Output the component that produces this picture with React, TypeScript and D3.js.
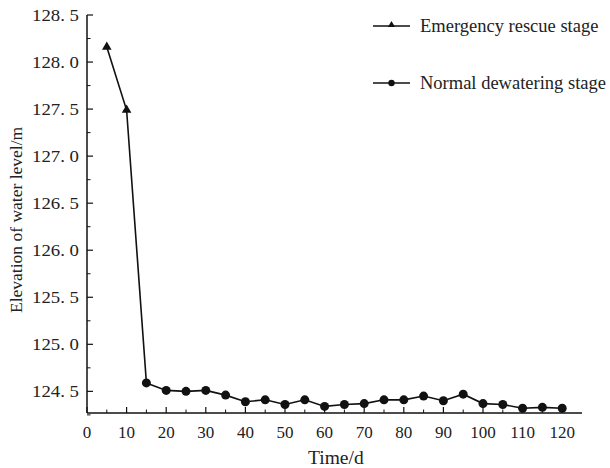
import React from "react";
import * as d3 from "d3";

const emergencyDays = [5, 10, 15];
const emergencyLevels = [128.16, 127.49, 124.59];
const normalDays = [15, 20, 25, 30, 35, 40, 45, 50, 55, 60, 65, 70, 75, 80, 85, 90, 95, 100, 105, 110, 115, 120];
const normalLevels = [124.59, 124.51, 124.5, 124.51, 124.46, 124.39, 124.41, 124.36, 124.41, 124.34, 124.36, 124.37, 124.41, 124.41, 124.45, 124.4, 124.47, 124.37, 124.36, 124.32, 124.33, 124.32];
const xTicks = [0, 10, 20, 30, 40, 50, 60, 70, 80, 90, 100, 110, 120];
const xMinorTicks = [5, 15, 25, 35, 45, 55, 65, 75, 85, 95, 105, 115];
const yTicks = [124.5, 125.0, 125.5, 126.0, 126.5, 127.0, 127.5, 128.0, 128.5];
const yMinorTicks = [124.25, 124.75, 125.25, 125.75, 126.25, 126.75, 127.25, 127.75, 128.25];
const seriesNames = ["Emergency rescue stage", "Normal dewatering stage"];

export default function App() {
  const W = 610, H = 468;
  const left = 87, right = 582, top = 15, bottom = 413;
  const x = d3.scaleLinear().domain([0, 125]).range([left, right]);
  const y = d3.scaleLinear().domain([124.27, 128.5]).range([bottom, top]);
  const line = d3.line<[number, number]>().x(d => x(d[0])).y(d => y(d[1]));
  const emer = emergencyDays.map((d, i) => [d, emergencyLevels[i]] as [number, number]);
  const norm = normalDays.map((d, i) => [d, normalLevels[i]] as [number, number]);
  const tri = d3.symbol().type(d3.symbolTriangle).size(40)()!;
  const col = "#111";
  const fmt = (v: number) => d3.format(".1f")(v).replace(".", ". ");
  const serif = "Liberation Serif";
  return (
    <svg width={W} height={H} style={{ position: "absolute", left: 0, top: 0, background: "#fff" }}>
      <rect width={W} height={H} fill="#fff" />
      <line x1={left} x2={left} y1={top} y2={bottom} stroke={col} strokeWidth={1.5} />
      <line x1={left} x2={right} y1={bottom} y2={bottom} stroke={col} strokeWidth={1.5} />
      {yTicks.map(t => (
        <g key={"y" + t}>
          <line x1={left} x2={left + 6} y1={y(t)} y2={y(t)} stroke={col} strokeWidth={1.2} />
          <text x={79} y={y(t)} dy="0.36em" textAnchor="end" fontFamily={serif} fontSize={17} fill="#222" textLength={47} lengthAdjust="spacingAndGlyphs">{fmt(t)}</text>
        </g>
      ))}
      {yMinorTicks.map(t => (
        <line key={"ym" + t} x1={left} x2={left + 3.5} y1={y(t)} y2={y(t)} stroke={col} strokeWidth={1} />
      ))}
      {xTicks.map(t => (
        <g key={"x" + t}>
          <line x1={x(t)} x2={x(t)} y1={bottom} y2={bottom - 6} stroke={col} strokeWidth={1.2} />
          <text x={x(t)} y={bottom + 25} textAnchor="middle" fontFamily={serif} fontSize={17} fill="#222">{t}</text>
        </g>
      ))}
      {xMinorTicks.map(t => (
        <line key={"xm" + t} x1={x(t)} x2={x(t)} y1={bottom} y2={bottom - 3.5} stroke={col} strokeWidth={1} />
      ))}
      <text x={308} y={464} fontFamily={serif} fontSize={19.5} fill="#222">Time/d</text>
      <text transform={`translate(22,313) rotate(-90)`} fontFamily={serif} fontSize={17.5} fill="#222">Elevation of water level/m</text>
      <path d={line(emer)!} fill="none" stroke={col} strokeWidth={1.6} />
      <path d={line(norm)!} fill="none" stroke={col} strokeWidth={1.6} />
      {emer.slice(0, 2).map((p, i) => (
        <path key={"t" + i} d={tri} transform={`translate(${x(p[0])},${y(p[1])})`} fill={col} />
      ))}
      {norm.map((p, i) => (
        <circle key={"c" + i} cx={x(p[0])} cy={y(p[1])} r={4.5} fill={col} />
      ))}
      <line x1={373} x2={410} y1={26} y2={26} stroke={col} strokeWidth={1.6} />
      <path d={d3.symbol().type(d3.symbolTriangle).size(22)()!} transform="translate(391.5,25)" fill={col} />
      <text x={420} y={26} dy="0.35em" fontFamily={serif} fontSize={18.5} fill="#222">{seriesNames[0]}</text>
      <line x1={373} x2={410} y1={83} y2={83} stroke={col} strokeWidth={1.6} />
      <circle cx={391.5} cy={83} r={3.2} fill={col} />
      <text x={420} y={83} dy="0.35em" fontFamily={serif} fontSize={18.5} fill="#222">{seriesNames[1]}</text>
    </svg>
  );
}
